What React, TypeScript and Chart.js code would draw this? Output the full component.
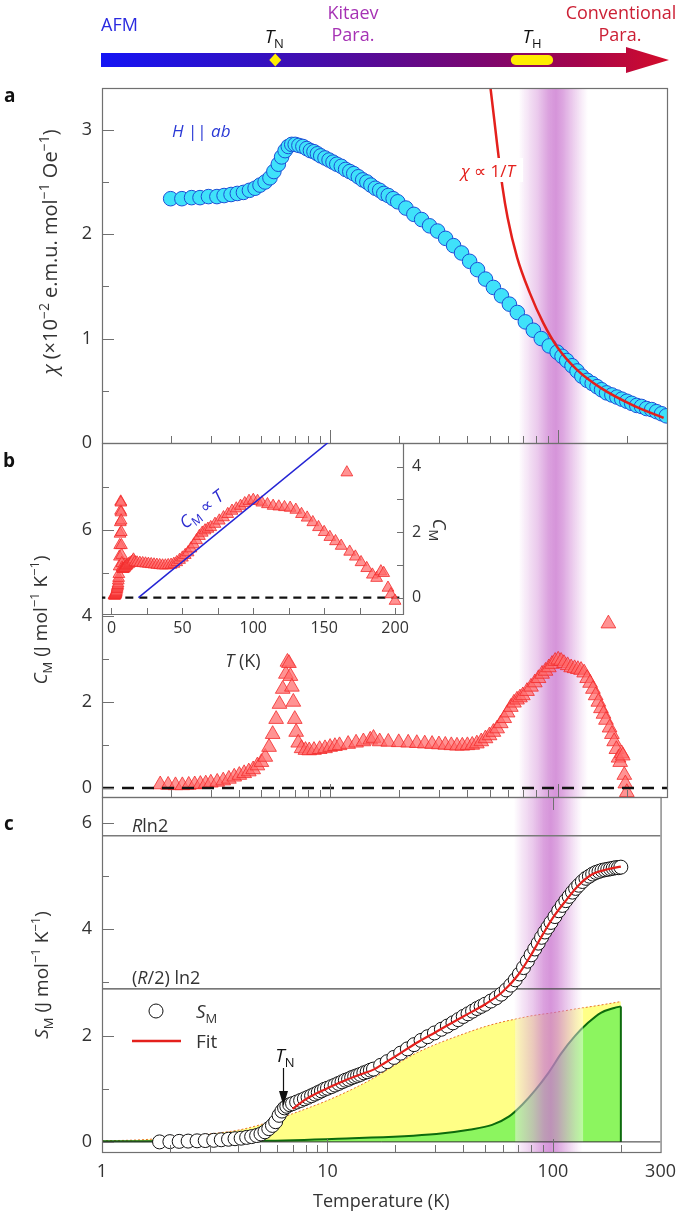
import React, { useEffect, useRef } from 'react';
import { Chart, registerables } from 'chart.js';

Chart.register(...registerables);

const FONT = '"Open Sans", "Noto Sans", "DejaVu Sans", sans-serif';
Chart.defaults.font.family = FONT;
Chart.defaults.color = '#333333';

const W = 685;
const H = 1217;
const PLOT_L = 102;
const PLOT_R = 667;
const A_TOP = 88;
const A_BOT = 443;
const B_BOT = 797;
const C_BOT = 1152;
const INSET_R = 403;
const INSET_B = 614;
const TEXT = '#333333';
const AXIS = '#707070';

// ---------- shared temperature axis ----------
const xTickLabels = [1, 10, 100, 300];
const xMajorMarks = [10, 100];
const xMinorMarks = [2, 3, 4, 5, 6, 7, 8, 9, 20, 30, 40, 50, 60, 70, 80, 90, 200];
const bandRange = [67, 135];
const overlayRange = [68, 136];
const tnMark = 5.75;
const thRange = [62, 95];

// ---------- panel a : susceptibility ----------
const aYRange = [0, 3.4];
const aYLabels = [0, 1, 2, 3];
const aYMinor = [0.5, 1.5, 2.5];
const chiT = [2.0, 2.24, 2.47, 2.69, 2.93, 3.19, 3.43, 3.68, 3.92, 4.17, 4.43, 4.69, 4.93, 5.19, 5.45, 5.67, 5.93, 6.13, 6.35, 6.56, 6.79, 7.03,
  7.3, 7.6, 7.9, 8.2, 8.5, 8.8, 9.1, 9.5, 9.9, 10.3, 10.7, 11.2, 11.7, 12.2, 12.7, 13.3, 13.9, 14.5, 15.1, 15.8, 16.5, 17.2, 18.0, 18.9,
  19.8, 21.5, 23.3, 25.2, 27.3, 29.6, 32.1, 34.8, 37.7, 40.9, 44.3, 48.0, 52.0, 56.4, 61.1, 66.2, 71.8, 77.8, 84.3, 91.4, 99.0,
  104, 109, 115, 121, 127, 134, 141, 148, 155, 163, 172, 181, 190, 200, 210, 221, 232, 244, 257, 270, 284, 298];
const chiV = [2.34, 2.34, 2.35, 2.35, 2.36, 2.36, 2.37, 2.38, 2.39, 2.40, 2.42, 2.44, 2.47, 2.50, 2.54, 2.60, 2.67, 2.74, 2.80, 2.84, 2.86, 2.86,
  2.85, 2.84, 2.82, 2.80, 2.79, 2.77, 2.75, 2.73, 2.71, 2.69, 2.67, 2.65, 2.62, 2.60, 2.58, 2.55, 2.52, 2.50, 2.47, 2.44, 2.42, 2.39, 2.37, 2.34,
  2.31, 2.25, 2.19, 2.14, 2.08, 2.03, 1.96, 1.89, 1.82, 1.74, 1.66, 1.57, 1.49, 1.41, 1.33, 1.25, 1.16, 1.08, 1.00, 0.93, 0.87,
  0.83, 0.79, 0.74, 0.69, 0.64, 0.60, 0.57, 0.54, 0.51, 0.48, 0.46, 0.44, 0.42, 0.40, 0.38, 0.36, 0.35, 0.33, 0.32, 0.30, 0.28, 0.26];
const chiFitT = [48, 50.5, 54, 57, 60, 66, 75, 86, 99, 121, 153, 213, 290];
const chiFitV = [3.75, 3.40, 2.86, 2.45, 2.16, 1.78, 1.44, 1.15, 0.92, 0.70, 0.53, 0.36, 0.24];

// ---------- panel b : magnetic specific heat ----------
const bYRange = [-0.21, 8.02];
const bYLabels = [0, 2, 4, 6];
const bYMinor = [1, 3, 5, 7];
const cmT = [1.8, 1.95, 2.1, 2.25, 2.4, 2.55, 2.7, 2.85, 3.0, 3.2, 3.4, 3.6, 3.8, 4.0, 4.2, 4.4, 4.6, 4.8, 5.0, 5.2, 5.4, 5.6, 5.8, 6.0, 6.2, 6.4, 6.5, 6.6, 6.7,
  6.8, 6.9, 7.0, 7.1, 7.25, 7.5, 7.8, 8.1, 8.5, 9.0, 9.5, 10, 10.5, 11, 12, 13, 14, 15, 15.5, 16.5, 18, 20, 22, 24, 26, 28, 30, 32, 34, 36,
  38, 40, 42, 44, 46, 48, 50, 52, 54, 56, 58, 60, 62, 64, 66, 68, 70, 73, 76, 79, 82, 85, 88, 91, 94, 97, 100, 103, 106, 110,
  114, 118, 122, 126, 130, 134, 138, 142, 146, 150, 154, 158, 162, 166, 168, 172, 176, 180, 184, 187, 190, 192, 195, 197, 200];
const cmV = [0.08, 0.07, 0.06, 0.06, 0.07, 0.08, 0.09, 0.10, 0.12, 0.14, 0.17, 0.21, 0.26, 0.30, 0.34, 0.38, 0.43, 0.52, 0.60, 0.72, 0.95, 1.25, 1.60, 1.95, 2.30, 2.65, 2.93, 2.90, 2.60,
  2.35, 2.00, 1.60, 1.30, 1.05, 0.92, 0.88, 0.87, 0.88, 0.90, 0.92, 0.95, 0.97, 0.99, 1.02, 1.05, 1.08, 1.12, 1.16, 1.08, 1.07, 1.06, 1.05, 1.04, 1.03, 1.02, 1.01, 1.00, 0.99, 0.98,
  0.98, 0.99, 1.00, 1.03, 1.08, 1.15, 1.22, 1.30, 1.38, 1.50, 1.62, 1.75, 1.88, 1.98, 2.05, 2.10, 2.15, 2.25, 2.35, 2.45, 2.55, 2.65, 2.72, 2.80, 2.88, 2.95, 2.98, 2.95, 2.90, 2.85,
  2.80, 2.78, 2.76, 2.74, 2.68, 2.55, 2.44, 2.30, 2.15, 2.00, 1.85, 1.72, 1.58, 3.82, 1.40, 1.25, 1.08, 0.90, 0.70, 0.60, 0.80, 0.75, 0.30, 0.10, -0.10];

// inset (linear temperature)
const insetXRange = [-6.7, 205.6];
const insetYRange = [-0.5, 4.72];
const insetXLabels = [0, 50, 100, 150, 200];
const insetXMinor = [25, 75, 125, 175];
const insetYLabels = [0, 2, 4];
const insetYMinor = [1, 3];
const cmLinT = [19, 156];
const cmLinV = [0, 4.85];

// ---------- panel c : magnetic entropy ----------
const cYRange = [-0.19, 6.49];
const cYLabels = [0, 2, 4, 6];
const cYMinor = [1, 3, 5];
const rln2 = 5.76;
const halfRln2 = 2.88;
const sT = [1.8, 2.0, 2.2, 2.41, 2.64, 2.87, 3.13, 3.38, 3.64, 3.89, 4.14, 4.38, 4.61, 4.85, 5.07, 5.28, 5.49, 5.7, 5.89, 6.1,
  6.28, 6.45, 6.6, 6.8, 7.0, 7.3, 7.6, 7.9, 8.2, 8.5, 8.8, 9.1, 9.4, 9.7, 10.0, 10.4, 10.8, 11.2, 11.6, 12.0,
  12.4, 12.8, 13.2, 13.6, 14.0, 14.5, 15.0, 15.5, 16.0, 17.2, 18.4, 19.7, 21.1, 22.6, 24.2, 26.0, 27.8, 29.8, 32, 34,
  36, 38, 40, 42, 44, 46, 48, 50, 53, 56, 59, 62, 65, 68, 71, 74, 77, 80, 83, 86, 89, 92, 95, 98, 102, 106, 110, 114, 118, 122,
  126, 130, 135, 140, 145, 150, 155, 160, 165, 170, 175, 180, 185, 190, 195, 200];
const sV = [0.0, 0.005, 0.01, 0.015, 0.02, 0.025, 0.03, 0.04, 0.05, 0.06, 0.07, 0.085, 0.10, 0.12, 0.15, 0.19, 0.25, 0.31, 0.38, 0.50,
  0.58, 0.64, 0.67, 0.70, 0.72, 0.75, 0.78, 0.81, 0.84, 0.87, 0.90, 0.93, 0.96, 0.99, 1.01, 1.04, 1.07, 1.10, 1.13, 1.16,
  1.18, 1.21, 1.23, 1.25, 1.27, 1.30, 1.32, 1.35, 1.37, 1.44, 1.51, 1.59, 1.67, 1.75, 1.83, 1.91, 1.98, 2.05, 2.12, 2.18,
  2.24, 2.30, 2.36, 2.41, 2.46, 2.51, 2.55, 2.59, 2.65, 2.71, 2.78, 2.86, 2.95, 3.05, 3.16, 3.28, 3.40, 3.52, 3.63, 3.74, 3.85, 3.95, 4.04, 4.13, 4.24, 4.35, 4.45, 4.54, 4.62, 4.70,
  4.77, 4.83, 4.90, 4.96, 5.00, 5.04, 5.07, 5.09, 5.11, 5.12, 5.13, 5.14, 5.15, 5.16, 5.16, 5.17];
const sFitT = [7.0, 8, 9, 10, 12, 14, 16, 18, 20, 25, 30, 40, 50, 60, 70, 80, 90, 100, 115, 130, 150, 175, 200];
const sFitV = [0.62, 0.80, 0.92, 1.01, 1.16, 1.27, 1.36, 1.49, 1.61, 1.87, 2.06, 2.36, 2.59, 2.83, 3.14, 3.52, 3.90, 4.22, 4.56, 4.83, 5.04, 5.13, 5.18];
const yelT = [1, 1.5, 2, 3, 4, 5, 6, 6.5, 7, 8, 10, 13, 16, 20, 25, 30, 40, 50, 60, 70, 80, 100, 130, 160, 200];
const yelV = [0.02, 0.04, 0.08, 0.15, 0.22, 0.32, 0.43, 0.48, 0.53, 0.62, 0.78, 1.0, 1.2, 1.45, 1.68, 1.83, 2.03, 2.17, 2.26, 2.32, 2.37, 2.43, 2.51, 2.57, 2.64];
const grT = [1, 5, 11.1, 30.4, 42.5, 53.7, 63.9, 73, 83.6, 95.5, 109, 125, 143, 163, 187, 200];
const grV = [0.01, 0.02, 0.06, 0.15, 0.23, 0.32, 0.48, 0.70, 0.98, 1.30, 1.67, 1.99, 2.24, 2.43, 2.52, 2.55];

// ---------- helpers ----------
const pts = (xs: number[], ys: number[]) => xs.map((x, i) => ({ x, y: ys[i] }));

type Seg = { t: string; it?: boolean; sup?: boolean; sub?: boolean; bold?: boolean };

function drawRich(ctx: any, segs: Seg[], x: number, y: number, size: number, color: string, align = 'left', rot = 0) {
  ctx.save();
  ctx.translate(x, y);
  if (rot) ctx.rotate(rot);
  ctx.fillStyle = color;
  ctx.textBaseline = 'alphabetic';
  ctx.textAlign = 'left';
  const f = (s: Seg) => `${s.it ? 'italic ' : ''}${s.bold ? '700 ' : '400 '}${s.sup || s.sub ? Math.round(size * 0.7) : size}px ${FONT}`;
  let w = 0;
  for (const s of segs) { ctx.font = f(s); w += ctx.measureText(s.t).width; }
  let cx = align === 'center' ? -w / 2 : align === 'right' ? -w : 0;
  for (const s of segs) {
    ctx.font = f(s);
    const dy = s.sup ? -size * 0.42 : s.sub ? size * 0.24 : 0;
    ctx.fillText(s.t, cx, dy);
    cx += ctx.measureText(s.t).width;
  }
  ctx.restore();
}

function marks(ctx: any, scale: any, vals: number[], len: number, side: string, fixed: number) {
  ctx.save();
  ctx.strokeStyle = AXIS;
  ctx.lineWidth = 1;
  ctx.beginPath();
  for (const v of vals) {
    const p = Math.round(scale.getPixelForValue(v)) + 0.5;
    if (side === 'bottom') { ctx.moveTo(p, fixed); ctx.lineTo(p, fixed - len); }
    else if (side === 'top') { ctx.moveTo(p, fixed); ctx.lineTo(p, fixed + len); }
    else if (side === 'left') { ctx.moveTo(fixed, p); ctx.lineTo(fixed + len, p); }
    else { ctx.moveTo(fixed, p); ctx.lineTo(fixed - len, p); }
  }
  ctx.stroke();
  ctx.restore();
}

function frame(ctx: any, ca: any) {
  ctx.save();
  ctx.strokeStyle = AXIS;
  ctx.lineWidth = 1.2;
  ctx.strokeRect(ca.left + 0.5, ca.top + 0.5, ca.right - ca.left, ca.bottom - ca.top);
  ctx.restore();
}

function drawBand(chart: any) {
  const { ctx, chartArea: ca, scales } = chart;
  const xs = scales.x;
  const x0 = xs.getPixelForValue(bandRange[0]);
  const x1 = xs.getPixelForValue(bandRange[1]);
  const g = ctx.createLinearGradient(x0, 0, x1, 0);
  const c = (a: number) => `rgba(190, 86, 196, ${a})`;
  g.addColorStop(0, c(0));
  g.addColorStop(0.1, c(0.12));
  g.addColorStop(0.28, c(0.32));
  g.addColorStop(0.44, c(0.56));
  g.addColorStop(0.54, c(0.63));
  g.addColorStop(0.64, c(0.52));
  g.addColorStop(0.78, c(0.3));
  g.addColorStop(0.9, c(0.12));
  g.addColorStop(1, c(0));
  ctx.save();
  ctx.fillStyle = g;
  ctx.fillRect(x0, ca.top, x1 - x0, ca.bottom - ca.top);
  ctx.restore();
}

const supM1: Seg = { t: '\u22121', sup: true };

function drawTopBar(ctx: any, xs: any) {
  const x0 = 101, x1 = 626, tip = 669, cy = 60;
  const g = ctx.createLinearGradient(x0, 0, tip, 0);
  g.addColorStop(0, '#1414f4');
  g.addColorStop(0.28, '#3310c0');
  g.addColorStop(0.5, '#5a0a92');
  g.addColorStop(0.68, '#7e066e');
  g.addColorStop(0.84, '#a4044c');
  g.addColorStop(1, '#d40c2a');
  ctx.save();
  ctx.fillStyle = g;
  ctx.beginPath();
  ctx.moveTo(x0, cy - 7); ctx.lineTo(x1, cy - 7); ctx.lineTo(x1, cy - 13); ctx.lineTo(tip, cy);
  ctx.lineTo(x1, cy + 13); ctx.lineTo(x1, cy + 7); ctx.lineTo(x0, cy + 7); ctx.closePath();
  ctx.fill();
  ctx.fillStyle = '#ffec00';
  const tx = xs.getPixelForValue(tnMark);
  ctx.beginPath();
  ctx.moveTo(tx, cy - 6.5); ctx.lineTo(tx + 6, cy); ctx.lineTo(tx, cy + 6.5); ctx.lineTo(tx - 6, cy); ctx.closePath();
  ctx.fill();
  const h0 = xs.getPixelForValue(thRange[0]);
  const h1 = xs.getPixelForValue(thRange[1]);
  ctx.beginPath();
  ctx.roundRect(h0, cy - 5, h1 - h0, 10, 5);
  ctx.fill();
  ctx.restore();
  drawRich(ctx, [{ t: 'AFM' }], 101, 31, 18, '#2a2ae0');
  drawRich(ctx, [{ t: 'T', it: true }, { t: 'N', sub: true }], tx - 1, 43, 19, '#111', 'center');
  drawRich(ctx, [{ t: 'Kitaev' }], 353, 19, 18, '#a632b4', 'center');
  drawRich(ctx, [{ t: 'Para.' }], 353, 41, 18, '#a632b4', 'center');
  drawRich(ctx, [{ t: 'T', it: true }, { t: 'H', sub: true }], (h0 + h1) / 2, 43, 19, '#111', 'center');
  drawRich(ctx, [{ t: 'Conventional' }], 621, 19, 18, '#cc2035', 'center');
  drawRich(ctx, [{ t: 'Para.' }], 620, 41, 18, '#cc2035', 'center');
}

function logX(show: boolean): any {
  const base: any = {
    type: 'logarithmic', min: 1, max: 300, position: 'bottom',
    afterBuildTicks: (s: any) => { s.ticks = xTickLabels.map((v) => ({ value: v })); },
    grid: { display: false, drawTicks: false },
    border: { display: false },
    ticks: { padding: 9, color: TEXT, font: { size: 18 }, maxRotation: 0, minRotation: 0, autoSkip: false, callback: (v: any) => String(v) },
  };
  if (!show) return { ...base, display: false };
  return {
    ...base,
    afterFit: (s: any) => { s.height = H - C_BOT; },
    title: { display: true, text: 'Temperature (K)', color: TEXT, font: { size: 18 }, padding: { top: 0, bottom: 4 } },
  };
}

function leftY(range: number[], labels: number[]): any {
  return {
    type: 'linear', position: 'left', min: range[0], max: range[1],
    afterFit: (s: any) => { s.width = PLOT_L; },
    afterBuildTicks: (s: any) => { s.ticks = labels.map((v) => ({ value: v })); },
    grid: { display: false, drawTicks: false },
    border: { display: false },
    ticks: { padding: 10, color: TEXT, font: { size: 18 }, callback: (v: any) => String(v) },
  };
}

const baseOpts = (top: number, bottom: number, left = 0, right = W - PLOT_R) => ({
  responsive: false,
  animation: false,
  events: [],
  layout: { padding: { top, bottom, left, right } },
  plugins: { legend: { display: false }, tooltip: { enabled: false } },
});

// ---------- panel a ----------
const plugA = {
  id: 'plugA',
  beforeDatasetsDraw(chart: any) { drawBand(chart); },
  afterDatasetsDraw(chart: any) {
    const ctx = chart.ctx;
    drawRich(ctx, [{ t: 'H', it: true }, { t: ' || ' }, { t: 'ab', it: true }], 172, 137, 17, '#2b3ad6');
    ctx.save(); ctx.fillStyle = '#ffffff'; ctx.fillRect(459, 158, 64, 24); ctx.restore();
    drawRich(ctx, [{ t: '\u03c7', it: true }, { t: ' \u221d 1/' }, { t: 'T', it: true }], 461, 177, 17, '#e4201c');
  },
  afterDraw(chart: any) {
    const { ctx, chartArea: ca, scales } = chart;
    frame(ctx, ca);
    marks(ctx, scales.x, xMinorMarks, 7, 'bottom', ca.bottom);
    marks(ctx, scales.x, xMajorMarks, 13, 'bottom', ca.bottom);
    marks(ctx, scales.y, aYMinor, 7, 'left', ca.left);
    marks(ctx, scales.y, aYLabels, 12, 'left', ca.left);
    drawRich(ctx, [{ t: '\u03c7', it: true }, { t: ' (\u00d710' }, { t: '\u22122', sup: true }, { t: ' e.m.u. mol' }, supM1, { t: ' Oe' }, supM1, { t: ')' }],
      57, 252, 20, TEXT, 'center', -Math.PI / 2);
    drawRich(ctx, [{ t: 'a', bold: true }], 4, 102, 19, '#111');
    drawTopBar(ctx, scales.x);
  },
};

function cfgA(): any {
  return {
    type: 'scatter',
    data: {
      datasets: [
        { data: pts(chiFitT, chiFitV), showLine: true, borderColor: '#e4201c', borderWidth: 2.5, pointRadius: 0, cubicInterpolationMode: 'monotone', order: 0 },
        { data: pts(chiT, chiV), pointRadius: 7.3, pointBackgroundColor: '#3fe2fa', pointBorderColor: '#1d4ed6', pointBorderWidth: 1, order: 1 },
      ],
    },
    options: { ...baseOpts(A_TOP, H - A_BOT), scales: { x: logX(false), y: leftY(aYRange, aYLabels) } },
    plugins: [plugA],
  };
}

// ---------- panel b ----------
const plugB = {
  id: 'plugB',
  beforeDatasetsDraw(chart: any) { drawBand(chart); },
  afterDraw(chart: any) {
    const { ctx, chartArea: ca, scales } = chart;
    frame(ctx, ca);
    marks(ctx, scales.x, xMinorMarks, 7, 'bottom', ca.bottom);
    marks(ctx, scales.x, xMajorMarks, 13, 'bottom', ca.bottom);
    marks(ctx, scales.y, bYMinor, 7, 'left', ca.left);
    marks(ctx, scales.y, bYLabels, 12, 'left', ca.left);
    drawRich(ctx, [{ t: 'C', it: true }, { t: 'M', sub: true }, { t: ' (J mol' }, supM1, { t: ' K' }, supM1, { t: ')' }],
      47, 620, 19, TEXT, 'center', -Math.PI / 2);
    drawRich(ctx, [{ t: 'b', bold: true }], 3, 467, 19, '#111');
  },
};

function cfgB(): any {
  return {
    type: 'scatter',
    data: {
      datasets: [
        { data: [{ x: 1, y: 0 }, { x: 300, y: 0 }], showLine: true, borderColor: '#111', borderWidth: 2.6, borderDash: [12, 8], pointRadius: 0, order: 0 },
        { data: pts(cmT, cmV), pointStyle: 'triangle', pointRadius: 8.5, pointBackgroundColor: 'rgba(255,105,105,0.72)', pointBorderColor: '#f22a2a', pointBorderWidth: 0.8, order: 1 },
      ],
    },
    options: { ...baseOpts(A_BOT, H - B_BOT), scales: { x: logX(false), y: leftY(bYRange, bYLabels) } },
    plugins: [plugB],
  };
}

// ---------- inset ----------
const plugInset = {
  id: 'plugInset',
  afterDatasetsDraw(chart: any) {
    drawRich(chart.ctx, [{ t: 'C', it: true }, { t: 'M', sub: true }, { t: ' \u221d ' }, { t: 'T', it: true }], 205, 514, 17, '#2b2bd0', 'center', -0.66);
  },
  afterDraw(chart: any) {
    const { ctx, chartArea: ca, scales } = chart;
    ctx.save();
    ctx.strokeStyle = AXIS;
    ctx.lineWidth = 1.2;
    ctx.beginPath();
    ctx.moveTo(ca.left, ca.bottom + 0.5); ctx.lineTo(ca.right + 0.5, ca.bottom + 0.5); ctx.lineTo(ca.right + 0.5, ca.top);
    ctx.stroke();
    ctx.restore();
    marks(ctx, scales.x, insetXLabels, 6, 'bottom', ca.bottom);
    marks(ctx, scales.x, insetXMinor, 6, 'bottom', ca.bottom);
    marks(ctx, scales.y, insetYLabels, 6, 'right', ca.right);
    marks(ctx, scales.y, insetYMinor, 6, 'right', ca.right);
    drawRich(ctx, [{ t: 'T', it: true }, { t: ' (K)' }], 243, 667, 18, TEXT, 'center');
    drawRich(ctx, [{ t: 'C', it: true }, { t: 'M', sub: true }], 433, 530, 18, TEXT, 'center', Math.PI / 2);
  },
};

function cfgInset(): any {
  return {
    type: 'scatter',
    data: {
      datasets: [
        { data: pts(cmLinT, cmLinV), showLine: true, borderColor: '#2424d4', borderWidth: 1.5, pointRadius: 0, order: 0 },
        { data: pts(cmT, cmV), pointStyle: 'triangle', pointRadius: 6.8, pointBackgroundColor: 'rgba(255,105,105,0.72)', pointBorderColor: '#f22a2a', pointBorderWidth: 0.8, order: 1 },
        { data: [{ x: -10, y: 0 }, { x: 210, y: 0 }], showLine: true, borderColor: '#111', borderWidth: 2.4, borderDash: [8, 6], pointRadius: 0, order: 2 },
      ],
    },
    options: {
      ...baseOpts(A_BOT, H - INSET_B - 50, PLOT_L, W - INSET_R - 30),
      scales: {
        x: {
          type: 'linear', position: 'bottom', min: insetXRange[0], max: insetXRange[1],
          afterFit: (s: any) => { s.height = 50; },
          afterBuildTicks: (s: any) => { s.ticks = insetXLabels.map((v) => ({ value: v })); },
          grid: { display: false, drawTicks: false }, border: { display: false },
          ticks: { padding: 5, color: TEXT, font: { size: 16 }, maxRotation: 0, autoSkip: false, callback: (v: any) => String(v) },
        },
        y: {
          type: 'linear', position: 'right', min: insetYRange[0], max: insetYRange[1],
          afterFit: (s: any) => { s.width = 30; },
          afterBuildTicks: (s: any) => { s.ticks = insetYLabels.map((v) => ({ value: v })); },
          grid: { display: false, drawTicks: false }, border: { display: false },
          ticks: { padding: 9, color: TEXT, font: { size: 16 }, callback: (v: any) => String(v) },
        },
      },
    },
    plugins: [plugInset],
  };
}

// ---------- panel c ----------
const ZERO_INDEX = 4;
const plugC = {
  id: 'plugC',
  beforeDatasetDraw(chart: any, args: any) {
    if (args.index !== ZERO_INDEX) return;
    const { ctx, chartArea: ca, scales } = chart;
    const xs = scales.x, ys = scales.y;
    ctx.save();
    ctx.beginPath();
    ctx.moveTo(xs.getPixelForValue(yelT[0]), ys.getPixelForValue(0));
    yelT.forEach((t, i) => ctx.lineTo(xs.getPixelForValue(t), ys.getPixelForValue(yelV[i])));
    ctx.lineTo(xs.getPixelForValue(yelT[yelT.length - 1]), ys.getPixelForValue(0));
    ctx.closePath();
    ctx.clip();
    const w0 = xs.getPixelForValue(overlayRange[0]);
    const w1 = xs.getPixelForValue(overlayRange[1]);
    ctx.fillStyle = 'rgba(255,255,255,0.42)';
    ctx.fillRect(w0, ca.top, w1 - w0, ca.bottom - ca.top);
    ctx.restore();
    drawBand(chart);
  },
  afterDatasetsDraw(chart: any) {
    const ctx = chart.ctx;
    drawRich(ctx, [{ t: 'R', it: true }, { t: 'ln2' }], 132, 832, 18, TEXT);
    drawRich(ctx, [{ t: '(' }, { t: 'R', it: true }, { t: '/2) ln2' }], 132, 984, 18, TEXT);
    ctx.save();
    ctx.beginPath();
    ctx.arc(156, 1011, 7, 0, Math.PI * 2);
    ctx.fillStyle = '#fff'; ctx.fill();
    ctx.strokeStyle = '#111'; ctx.lineWidth = 1; ctx.stroke();
    ctx.beginPath();
    ctx.moveTo(132, 1041); ctx.lineTo(181, 1041);
    ctx.strokeStyle = '#e4201c'; ctx.lineWidth = 2.5; ctx.stroke();
    ctx.restore();
    drawRich(ctx, [{ t: 'S', it: true }, { t: 'M', sub: true }], 196, 1018, 19, TEXT);
    drawRich(ctx, [{ t: 'Fit' }], 196, 1048, 19, TEXT);
    drawRich(ctx, [{ t: 'T', it: true }, { t: 'N', sub: true }], 285, 1062, 19, '#111', 'center');
    ctx.save();
    ctx.strokeStyle = '#111'; ctx.lineWidth = 1.2;
    ctx.beginPath(); ctx.moveTo(283.5, 1068); ctx.lineTo(283.5, 1093); ctx.stroke();
    ctx.fillStyle = '#111';
    ctx.beginPath(); ctx.moveTo(279, 1091); ctx.lineTo(288, 1091); ctx.lineTo(283.5, 1106); ctx.closePath(); ctx.fill();
    ctx.restore();
  },
  afterDraw(chart: any) {
    const { ctx, chartArea: ca, scales } = chart;
    frame(ctx, ca);
    marks(ctx, scales.x, xMinorMarks, 7, 'bottom', ca.bottom);
    marks(ctx, scales.x, xMajorMarks, 13, 'bottom', ca.bottom);
    marks(ctx, scales.x, [100], 13, 'top', ca.top);
    marks(ctx, scales.y, cYMinor, 7, 'left', ca.left);
    marks(ctx, scales.y, cYLabels, 12, 'left', ca.left);
    drawRich(ctx, [{ t: 'S', it: true }, { t: 'M', sub: true }, { t: ' (J mol' }, supM1, { t: ' K' }, supM1, { t: ')' }],
      48, 975, 19, TEXT, 'center', -Math.PI / 2);
    drawRich(ctx, [{ t: 'c', bold: true }], 4, 830, 19, '#111');
  },
};

function cfgC(): any {
  const line = (y: number) => [{ x: 1, y }, { x: 300, y }];
  return {
    type: 'scatter',
    data: {
      datasets: [
        { data: pts(sFitT, sFitV), showLine: true, borderColor: '#e4201c', borderWidth: 2.2, pointRadius: 0, cubicInterpolationMode: 'monotone', order: 0 },
        { data: pts(sT, sV), pointRadius: 7, pointBackgroundColor: '#ffffff', pointBorderColor: '#111', pointBorderWidth: 1, order: 1 },
        { data: line(rln2), showLine: true, borderColor: '#7a7a7a', borderWidth: 1.5, pointRadius: 0, order: 2 },
        { data: line(halfRln2), showLine: true, borderColor: '#4a4a4a', borderWidth: 1.2, pointRadius: 0, order: 3 },
        { data: line(0), showLine: true, borderColor: '#333', borderWidth: 1, pointRadius: 0, order: 4 },
        { data: [{ x: 200, y: grV[grV.length - 1] }, { x: 200, y: 0 }], showLine: true, borderColor: '#0d6b0d', borderWidth: 2, pointRadius: 0, order: 5 },
        { data: pts(grT, grV), showLine: true, fill: 'origin', backgroundColor: '#8cf55f', borderColor: '#0d6b0d', borderWidth: 2, pointRadius: 0, cubicInterpolationMode: 'monotone', order: 6 },
        { data: pts(yelT, yelV), showLine: true, fill: 'origin', backgroundColor: '#ffff86', borderColor: '#e8702a', borderWidth: 1, borderDash: [2, 2], pointRadius: 0, cubicInterpolationMode: 'monotone', order: 7 },
      ],
    },
    options: { ...baseOpts(B_BOT, 0), scales: { x: logX(true), y: leftY(cYRange, cYLabels) } },
    plugins: [plugC],
  };
}

export default function App() {
  const r1 = useRef<HTMLCanvasElement>(null);
  const r2 = useRef<HTMLCanvasElement>(null);
  const r3 = useRef<HTMLCanvasElement>(null);
  const r4 = useRef<HTMLCanvasElement>(null);
  useEffect(() => {
    document.body.style.margin = '0';
    const charts = [
      new Chart(r1.current as any, cfgA()),
      new Chart(r2.current as any, cfgB()),
      new Chart(r3.current as any, cfgInset()),
      new Chart(r4.current as any, cfgC()),
    ];
    return () => charts.forEach((c) => c.destroy());
  }, []);
  const st: any = { position: 'absolute', left: 0, top: 0 };
  return (
    <div style={{ position: 'absolute', left: 0, top: 0, width: W, height: H, background: '#ffffff' }}>
      <canvas ref={r1} width={W} height={H} style={st} />
      <canvas ref={r2} width={W} height={H} style={st} />
      <canvas ref={r3} width={W} height={H} style={st} />
      <canvas ref={r4} width={W} height={H} style={st} />
    </div>
  );
}
